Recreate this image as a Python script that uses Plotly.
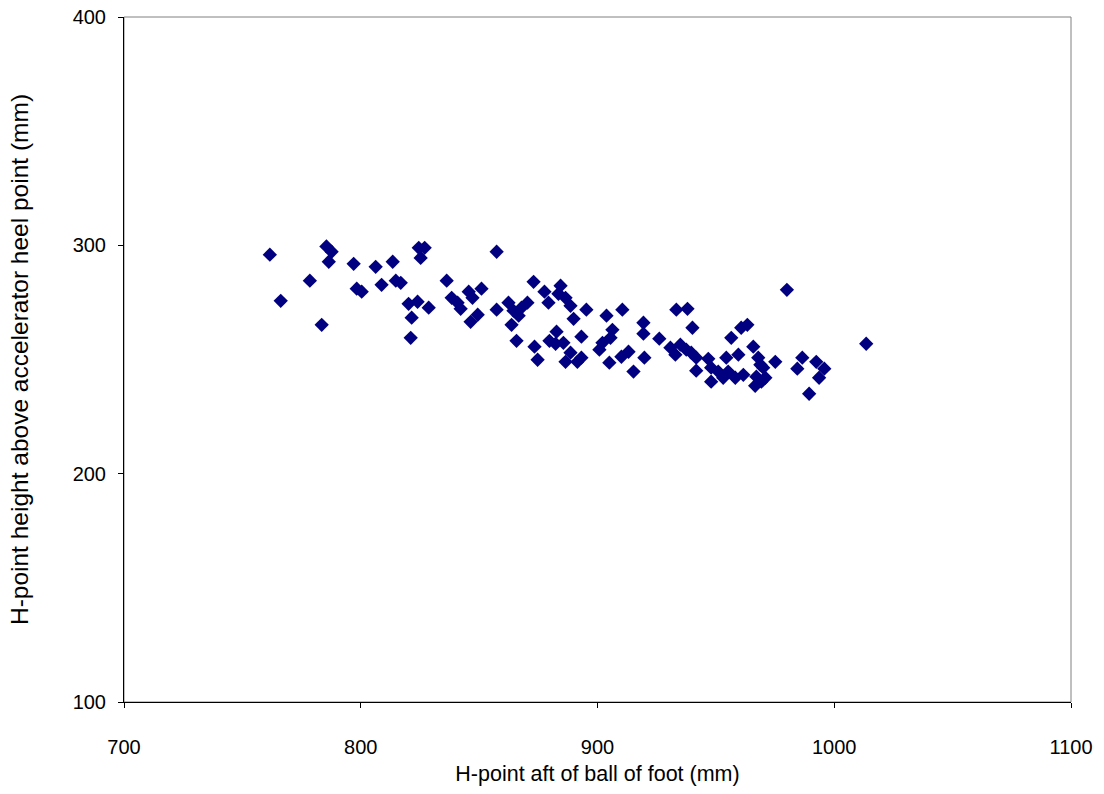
import plotly.graph_objects as go

# H-point aft of ball of foot (mm)
x_aft = [761.6, 766.2, 778.5, 783.5, 785.5, 787.7, 786.5, 797.0, 798.3, 800.4,
         806.3, 808.8, 813.5, 814.8, 816.9, 820.2, 821.5, 821.1, 824.0, 824.5,
         827.0, 825.3, 828.7, 836.3, 838.4, 840.9, 842.2, 845.6, 847.2, 846.4,
         849.4, 851.0, 857.4, 857.4, 862.4, 864.5, 866.7, 867.9, 870.4, 863.7,
         865.8, 873.0, 877.6, 884.4, 883.5, 886.5, 888.6, 879.3, 889.9, 895.3,
         903.8, 910.5, 919.4, 919.4, 873.4, 874.7, 882.7, 879.7, 882.3, 885.6,
         893.2, 888.6, 886.5, 893.2, 891.5, 906.3, 905.5, 902.1, 900.8, 913.1,
         910.1, 905.0, 915.2, 919.8, 933.3, 938.0, 940.1, 926.1, 930.8, 932.9,
         935.0, 937.5, 939.6, 941.7, 941.7, 946.8, 948.0, 948.0, 951.0, 953.1,
         955.2, 958.2, 961.6, 954.4, 959.5, 956.5, 960.7, 963.3, 965.8, 967.9,
         968.8, 970.0, 967.1, 969.2, 970.9, 966.6, 975.1, 980.0, 986.5, 984.4,
         992.4, 995.8, 993.6, 989.4, 1013.5]

# H-point height above accelerator heel point (mm)
y_height = [295.9, 275.7, 284.5, 265.2, 299.5, 297.2, 292.8, 291.9, 281.0, 279.7,
            290.6, 282.7, 292.8, 284.5, 283.6, 274.4, 268.3, 259.5, 275.3, 298.9,
            298.9, 294.5, 272.7, 284.5, 277.0, 274.9, 272.2, 279.7, 277.0, 266.5,
            269.6, 281.0, 297.2, 271.8, 274.9, 271.4, 269.2, 272.7, 274.9, 265.2,
            258.2, 284.0, 279.7, 282.3, 278.8, 277.0, 273.5, 274.9, 267.8, 271.8,
            269.2, 271.8, 266.1, 261.3, 255.6, 249.9, 262.2, 258.2, 256.9, 257.3,
            260.0, 253.0, 249.0, 250.8, 249.0, 263.0, 259.5, 257.3, 254.3, 253.4,
            251.2, 248.6, 244.7, 250.8, 271.8, 272.2, 263.9, 259.1, 255.2, 252.1,
            256.5, 254.3, 253.0, 250.8, 245.1, 250.3, 246.4, 240.3, 244.7, 242.0,
            244.7, 242.0, 243.3, 250.8, 252.1, 259.5, 263.9, 265.2, 255.6, 250.8,
            247.7, 246.4, 242.5, 240.3, 242.0, 238.5, 249.0, 280.5, 250.8, 246.0,
            249.0, 246.0, 242.0, 235.0, 256.9]

x_ticks = [700, 800, 900, 1000, 1100]
y_ticks = [100, 200, 300, 400]

font_family = "Arial, Liberation Sans, sans-serif"

fig = go.Figure()
fig.add_trace(go.Scatter(
    x=x_aft, y=y_height, mode="markers",
    marker=dict(symbol="diamond", size=11, color="#000080",
                line=dict(width=0)),
    showlegend=False,
))

fig.add_shape(type="rect", xref="paper", yref="paper", x0=0, y0=0, x1=1, y1=1,
              line=dict(color="#808080", width=1), layer="below")

fig.update_layout(
    width=1104, height=794,
    margin=dict(l=124, r=33, t=17, b=92, autoexpand=False),
    paper_bgcolor="white", plot_bgcolor="white",
    font=dict(family=font_family, size=20, color="black"),
    xaxis=dict(
        range=[700, 1100], tickvals=x_ticks, ticktext=[str(v) for v in x_ticks],
        showgrid=False, zeroline=False, automargin=False,
        showline=True, linecolor="black", linewidth=1,
        ticks="outside", ticklen=5, tickcolor="black",
        ticklabelstandoff=22, ticklabeloverflow="allow",
        title=dict(text="H-point aft of ball of foot (mm)", standoff=8,
                   font=dict(size=21.5)),
        tickfont=dict(size=20),
    ),
    yaxis=dict(
        range=[100, 400], tickvals=y_ticks, ticktext=[str(v) for v in y_ticks],
        showgrid=False, zeroline=False, automargin=False,
        showline=True, linecolor="black", linewidth=1,
        ticks="outside", ticklen=5, tickcolor="black",
        ticklabelstandoff=8, ticklabeloverflow="allow",
        title=dict(text="H-point height above accelerator heel point (mm)",
                   standoff=37, font=dict(size=24.5)),
        tickfont=dict(size=20),
    ),
)

# remove the page's default body margin so the figure sits at the window origin
fig.write_html("out.html",
               config={"displayModeBar": False},
               post_script="document.body.style.margin='0';")
